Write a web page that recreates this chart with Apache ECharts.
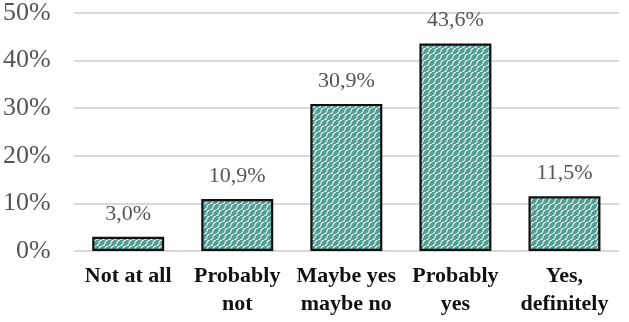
<!DOCTYPE html>
<html>
<head>
<meta charset="utf-8">
<script src="https://cdn.jsdelivr.net/npm/echarts@6/dist/echarts.min.js"></script>
<style>
  html, body { margin: 0; padding: 0; background: #fff; }
  #chart { width: 629px; height: 322px; }
</style>
</head>
<body>
<div id="chart"></div>
<script>
// categories and values (percent)
const categories = ["Not at all", "Probably\nnot", "Maybe yes\nmaybe no", "Probably\nyes", "Yes,\ndefinitely"];
const values = [3.0, 10.9, 30.9, 43.6, 11.5];
const yTicks = [0, 10, 20, 30, 40, 50];

// teal fill with white wavy diagonal hatching
function makePattern() {
  const s = 6;
  const c = document.createElement("canvas");
  c.width = s;
  c.height = s;
  const ctx = c.getContext("2d");
  ctx.fillStyle = "#519f92";
  ctx.fillRect(0, 0, s, s);
  ctx.strokeStyle = "rgba(255,255,255,0.95)";
  ctx.lineWidth = 1.1;
  // wavy stroke along the "/" diagonal, drawn with neighbours for wrap
  [-s, 0, s].forEach(off => {
    ctx.beginPath();
    for (let t = 0; t <= 1.0001; t += 0.05) {
      const w = Math.sin(t * Math.PI * 2) * 0.5;
      const px = t * s + off + w;
      const py = s - t * s + w;
      if (t === 0) ctx.moveTo(px, py); else ctx.lineTo(px, py);
    }
    ctx.stroke();
  });
  return c;
}

const chart = echarts.init(document.getElementById("chart"));
const option = {
  animation: false,
  grid: { left: 73, right: 10, top: 5.5, bottom: 71 },
  xAxis: {
    type: "category",
    data: categories,
    axisLine: { show: false },
    axisTick: { show: false },
    axisLabel: {
      interval: 0,
      margin: 11,
      fontFamily: "Liberation Serif",
      fontWeight: "bold",
      fontSize: 22,
      lineHeight: 28,
      color: "#111"
    }
  },
  yAxis: {
    type: "value",
    min: yTicks[0],
    max: yTicks[yTicks.length - 1],
    interval: 10,
    axisLine: { show: false },
    axisTick: { show: false },
    splitLine: { lineStyle: { color: "#d9d9d9", width: 2 } },
    axisLabel: {
      margin: 23,
      fontFamily: "Liberation Serif",
      fontSize: 26,
      color: "#555",
      formatter: v => v + "%"
    }
  },
  series: [
    {
      type: "bar",
      data: values,
      barWidth: "66%",
      itemStyle: {
        color: { image: makePattern(), repeat: "repeat" },
        borderColor: "#111",
        borderWidth: 2.2
      },
      label: {
        show: true,
        position: "top",
        distance: 12,
        fontFamily: "Liberation Serif",
        fontSize: 22,
        color: "#555",
        formatter: p => p.value.toFixed(1).replace(".", ",") + "%"
      }
    }
  ]
};
chart.setOption(option);
</script>
</body>
</html>
